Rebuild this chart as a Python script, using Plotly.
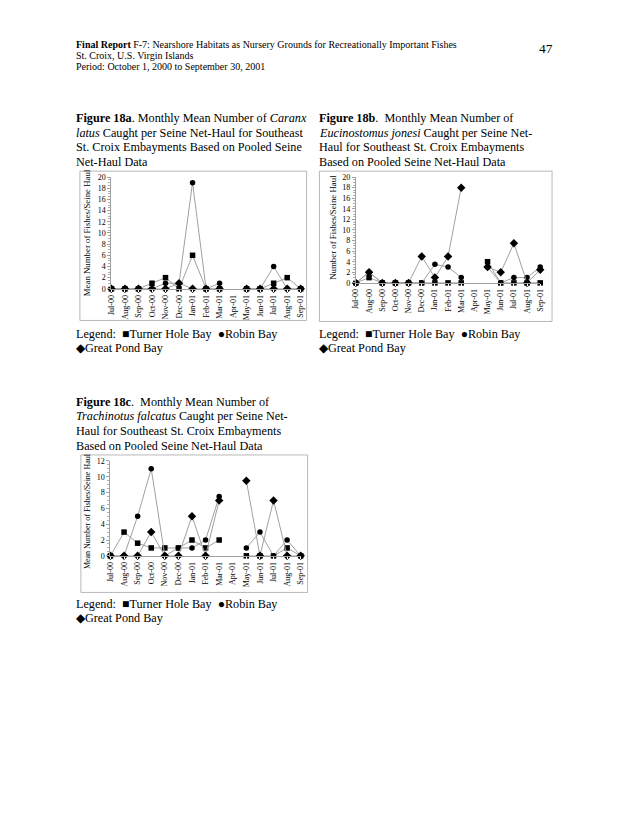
import plotly.graph_objects as go

months = ["Jul-00", "Aug-00", "Sep-00", "Oct-00", "Nov-00", "Dec-00", "Jan-01", "Feb-01",
          "Mar-01", "Apr-01", "May-01", "Jun-01", "Jul-01", "Aug-01", "Sep-01"]
N = None

# Figure 18a - Caranx latus
a_turner = [0, 0, 0, 1, 2, 0, 6, 0, 0, N, 0, 0, 1, 2, 0]
a_robin = [0, 0, 0, 0, 1, 1, 19, 0, 1, N, 0, 0, 4, 0, 0]
a_pond = [0, 0, 0, 0, 0, 1, 0, 0, 0, N, 0, 0, 0, 0, 0]

# Figure 18b - Eucinostomus jonesi
b_turner = [0, 1, 0, 0, 0, 0, 0, 0, 0, N, 4, 0, 0, 0, 0]
b_robin = [0, 2, 0, 0, 0, 0, 3.5, 3, 1, N, 3, 0, 1, 1, 3]
b_pond = [0, 2, 0, 0, 0, 5, 1, 5, 18, N, 3, 2, 7.5, 0, 2.5]

# Figure 18c - Trachinotus falcatus
c_turner = [0, 3, 1.6, 1, 1, 1, 2, 1, 2, N, 0, 0, 0, 1, 0]
c_robin = [0, 0, 5, 11, 0, 1, 1, 2, 7.5, N, 1, 3, 0, 2, 0]
c_pond = [0, 0, 0, 3, 0, 0, 5, 0, 7, N, 9.5, 0, 7, 0, 0]

W, H = 630, 815
SERIF = "Liberation Serif, Times New Roman, serif"


def px(x):
    return x / W


def py(y):
    return 1 - y / H


fig = go.Figure()

charts = [
    # (suffix, data, x0, x1, y_top, y_bottom, ymax, dtick, ytitle, title_x, title_yc, title_size)
    ("", (a_turner, a_robin, a_pond), 109, 301, 175, 288, 20, 2,
     "Mean Number of Fishes/Seine Haul", 85, 231, 8.8),
    ("2", (b_turner, b_robin, b_pond), 357, 544, 175, 282, 20, 2,
     "Number of Fishes/Seine Haul", 333, 226, 8.8),
    ("3", (c_turner, c_robin, c_pond), 108, 301, 462, 558, 12, 2,
     "Mean Number of Fishes/Seine Haul", 85, 513, 8.0),
]

symbols = ["square", "circle", "diamond"]
sizes = [5.5, 5.5, 6.5]
names = ["Turner Hole Bay", "Robin Bay", "Great Pond Bay"]

annotations = []
for suf, data, x0, x1, yt, yb, ymax, dt, ytitle, tx, tyc, tsz in charts:
    for vals, sym, sz, nm in zip(data, symbols, sizes, names):
        fig.add_trace(go.Scatter(
            x=months, y=vals, mode="lines+markers", name=nm,
            xaxis="x" + suf, yaxis="y" + suf,
            line=dict(color="#a0a0a0", width=1),
            marker=dict(symbol=sym, size=sz, color="black"),
            connectgaps=False, cliponaxis=False, showlegend=False,
        ))
    fig.layout["xaxis" + suf] = dict(
        domain=[px(x0), px(x1)], anchor="y" + suf, type="category",
        categoryorder="array", categoryarray=months, range=[0, 14],
        tickangle=-90, tickfont=dict(family=SERIF, size=8, color="black"),
        showline=True, linecolor="#a0a0a0", linewidth=1, showgrid=False,
        zeroline=False, ticks="outside", ticklen=2, tickcolor="white",
        fixedrange=True,
    )
    fig.layout["yaxis" + suf] = dict(
        domain=[py(yb), py(yt)], anchor="x" + suf, range=[0, ymax], dtick=dt,
        tickfont=dict(family=SERIF, size=8, color="black"),
        showline=True, linecolor="#a0a0a0", linewidth=1, showgrid=False,
        zeroline=False, ticks="outside", ticklen=3, tickcolor="#a0a0a0",
        minor=dict(ticks="outside", ticklen=2, tickcolor="#b0b0b0", dtick=dt / 4),
        fixedrange=True,
    )
    annotations.append(dict(
        x=px(tx), y=py(tyc), xref="paper", yref="paper", text=ytitle,
        textangle=-90, showarrow=False, xanchor="center", yanchor="middle",
        font=dict(family=SERIF, size=tsz, color="black"),
    ))

# chart boxes
boxes = [(77, 169, 307, 320), (320, 169, 556, 321), (78, 456, 308, 595)]
shapes = []
for x0, y0, x1, y1 in boxes:
    shapes.append(dict(type="rect", xref="paper", yref="paper",
                       x0=px(x0), x1=px(x1), y0=py(y1), y1=py(y0),
                       line=dict(color="#b8b8b8", width=1)))

XOFF = -4


def text(x, y, s, size, anchor="left"):
    annotations.append(dict(
        x=px(x + (XOFF if anchor == "left" else 3)), y=py(y), xref="paper", yref="paper",
        text=s, showarrow=False,
        xanchor=anchor, yanchor="middle", align="left",
        font=dict(family=SERIF, size=size, color="black"),
    ))


# header
text(75, 41, "<b>Final Report</b> F-7: Nearshore Habitats as Nursery Grounds for Recreationally Important Fishes", 10)
text(75, 52, "St. Croix, U.S. Virgin Islands", 10)
text(75, 63, "Period: October 1, 2000 to September 30, 2001", 10)
text(556, 45, "47", 13.5, anchor="right")

CAP = 12.2
# captions
cap_a = ["<b>Figure 18a</b>. Monthly Mean Number of <i>Caranx</i>",
         "<i>latus</i> Caught per Seine Net-Haul for Southeast",
         "St. Croix Embayments Based on Pooled Seine",
         "Net-Haul Data"]
cap_b = ["<b>Figure 18b</b>.  Monthly Mean Number of",
         "<i>Eucinostomus jonesi</i> Caught per Seine Net-",
         "Haul for Southeast St. Croix Embayments",
         "Based on Pooled Seine Net-Haul Data"]
cap_c = ["<b>Figure 18c</b>.  Monthly Mean Number of",
         "<i>Trachinotus falcatus</i> Caught per Seine Net-",
         "Haul for Southeast St. Croix Embayments",
         "Based on Pooled Seine Net-Haul Data"]
for i, s in enumerate(cap_a):
    text(75, 115 + 15 * i, s, CAP)
for i, s in enumerate(cap_b):
    text(322, 115 + 15 * i, s, CAP)
for i, s in enumerate(cap_c):
    text(75, 402 + 15 * i, s, CAP)

# legends
leg1 = "Legend:  \u25a0Turner Hole Bay  \u25cfRobin Bay"
leg2 = "\u25c6Great Pond Bay"
text(75, 334, leg1, CAP)
text(75, 348, leg2, CAP)
text(322, 334, leg1, CAP)
text(322, 348, leg2, CAP)
text(75, 607, leg1, CAP)
text(75, 621, leg2, CAP)

fig.update_layout(
    width=W, height=H, margin=dict(l=0, r=0, t=0, b=0),
    paper_bgcolor="white", plot_bgcolor="white",
    annotations=annotations, shapes=shapes, showlegend=False,
)

fig.write_html("out.html")
